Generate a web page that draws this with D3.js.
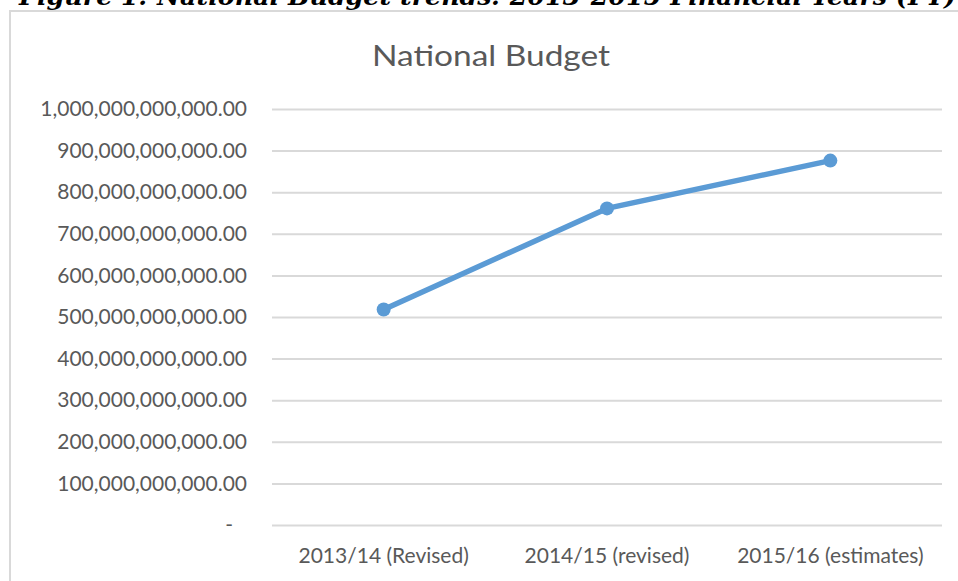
<!DOCTYPE html>
<html>
<head>
<meta charset="utf-8">
<script src="https://cdn.jsdelivr.net/npm/d3@7"></script>
<style>
  html, body { margin: 0; padding: 0; background: #fff; overflow: hidden; }
  svg { display: block; }
</style>
</head>
<body>
<svg id="chart" width="958" height="581"></svg>
<script>
// ---- Data ----
const categories = ["2013/14 (Revised)", "2014/15 (revised)", "2015/16 (estimates)"];
const budgetValues = [518000000000, 761000000000, 876000000000];
const yTickValues = [0, 100e9, 200e9, 300e9, 400e9, 500e9, 600e9, 700e9, 800e9, 900e9, 1000e9];
const captionText = "Figure 1: National Budget trends: 2013-2015 Financial Years (FY)";
const chartTitle = "National Budget";

// ---- Layout ----
const svg = d3.select("#chart");
const plot = { left: 272, right: 942, top: 109, bottom: 525 };
const textColor = "#595959";
const gridColor = "#d9d9d9";
const lineColor = "#5b9bd5";
const font = "Lato, 'Open Sans', sans-serif";

// Caption (cut off at top)
svg.append("text")
  .attr("x", 19).attr("y", 5)
  .attr("font-family", "'DejaVu Serif', 'Liberation Serif', serif")
  .attr("font-weight", "bold").attr("font-style", "italic")
  .attr("font-size", 24).attr("fill", "#000")
  .attr("textLength", 937).attr("lengthAdjust", "spacingAndGlyphs")
  .text(captionText);

// Chart border
svg.append("rect")
  .attr("x", 10).attr("y", 11)
  .attr("width", 962).attr("height", 600)
  .attr("fill", "none").attr("stroke", gridColor).attr("stroke-width", 2);

// Title
svg.append("text")
  .attr("x", 491).attr("y", 66)
  .attr("text-anchor", "middle")
  .attr("font-family", font).attr("font-size", 29)
  .attr("fill", textColor)
  .attr("textLength", 238).attr("lengthAdjust", "spacingAndGlyphs")
  .text(chartTitle);

// Scales
const x = d3.scaleBand().domain(categories).range([plot.left, plot.right]);
const y = d3.scaleLinear().domain([0, 1e12]).range([plot.bottom, plot.top]);
const cx = d => x(d) + x.bandwidth() / 2;

// Y axis with gridlines
const yAxis = d3.axisLeft(y)
  .tickValues(yTickValues)
  .tickSizeInner(-(plot.right - plot.left))
  .tickSizeOuter(0)
  .tickPadding(25)
  .tickFormat(d => d === 0 ? "-" : d3.format(",.2f")(d));

const gy = svg.append("g")
  .attr("transform", `translate(${plot.left},0)`)
  .call(yAxis);
gy.select(".domain").remove();
gy.selectAll(".tick line").attr("stroke", gridColor).attr("stroke-width", 2);
gy.selectAll(".tick text")
  .attr("font-family", font).attr("font-size", 21).attr("fill", textColor)
  .attr("dx", d => d === 0 ? -14 : 0);

// X axis
const xAxis = d3.axisBottom(x).tickSize(0).tickPadding(23);
const gx = svg.append("g")
  .attr("transform", `translate(0,${plot.bottom})`)
  .call(xAxis);
gx.select(".domain").remove();
gx.selectAll(".tick text")
  .attr("font-family", font).attr("font-size", 21).attr("fill", textColor);

// Line
const line = d3.line()
  .x((d, i) => cx(categories[i]))
  .y(d => y(d));
svg.append("path")
  .datum(budgetValues)
  .attr("d", line)
  .attr("fill", "none")
  .attr("stroke", lineColor)
  .attr("stroke-width", 5.5)
  .attr("stroke-linejoin", "round")
  .attr("stroke-linecap", "round");

// Markers
svg.selectAll("circle.pt")
  .data(budgetValues)
  .join("circle")
  .attr("class", "pt")
  .attr("cx", (d, i) => cx(categories[i]))
  .attr("cy", d => y(d))
  .attr("r", 7)
  .attr("fill", lineColor);
</script>
</body>
</html>
